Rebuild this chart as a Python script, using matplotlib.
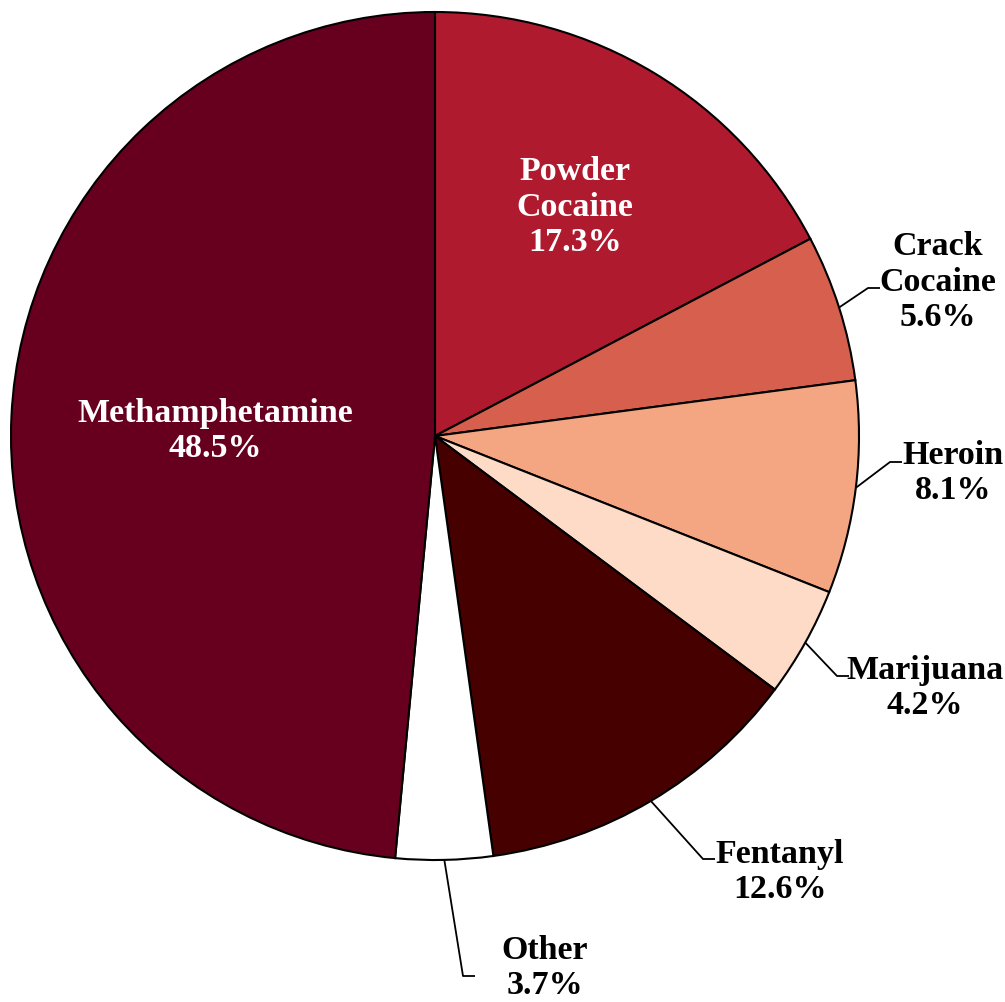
import numpy as np
import matplotlib.pyplot as plt

# data
drugs = ["Powder\nCocaine", "Crack\nCocaine", "Heroin", "Marijuana", "Fentanyl", "Other", "Methamphetamine"]
shares = [17.3, 5.6, 8.1, 4.2, 12.6, 3.7, 48.5]
colors = ["#AF1A2E", "#D6604D", "#F4A582", "#FDDBC7", "#470000", "#FFFFFF", "#67001F"]

plt.rcParams['font.family'] = ['Liberation Serif', 'DejaVu Serif']

W, H = 1005, 1002
CX, CY, R = 435, 436, 424

def px(x, y):
    # pixel position -> data units (pie radius = 1)
    return (x - CX) / R, (CY - y) / R

fig = plt.figure(figsize=(W / 100, H / 100), dpi=100)
ax = fig.add_axes([0, 0, 1, 1])
wedges, _ = ax.pie(shares, colors=colors, startangle=90, counterclock=False,
                   radius=1, wedgeprops=dict(edgecolor="black", linewidth=1.5))
ax.set_xlim(-CX / R, (W - CX) / R)
ax.set_ylim(-(H - CY) / R, CY / R)
ax.set_aspect("equal")
ax.axis("off")

# label layout: (text pixel pos, elbow pixel pos or None, text colour)
layout = [
    ((575, 207), None, "white"),
    ((938, 282), (868, 288), "black"),
    ((953, 473), (890, 462), "black"),
    ((925, 688), (837, 676), "black"),
    ((780, 872), (703, 859), "black"),
    ((545, 968), (463, 976), "black"),
    ((215, 431), None, "white"),
]

for w, name, val, (tpos, elbow, tc) in zip(wedges, drugs, shares, layout):
    tx, ty = px(*tpos)
    ax.text(tx, ty, f"{name}\n{val:.1f}%", ha="center", va="center",
            fontsize=24.5, fontweight="bold", color=tc, linespacing=1.2)
    if elbow is not None:
        mid = np.deg2rad((w.theta1 + w.theta2) / 2)
        ex, ey = px(*elbow)
        ax.plot([np.cos(mid), ex, ex + 12 / R], [np.sin(mid), ey, ey],
                color="black", linewidth=1.3, solid_capstyle="butt")

fig.savefig("out.png", dpi=100)
